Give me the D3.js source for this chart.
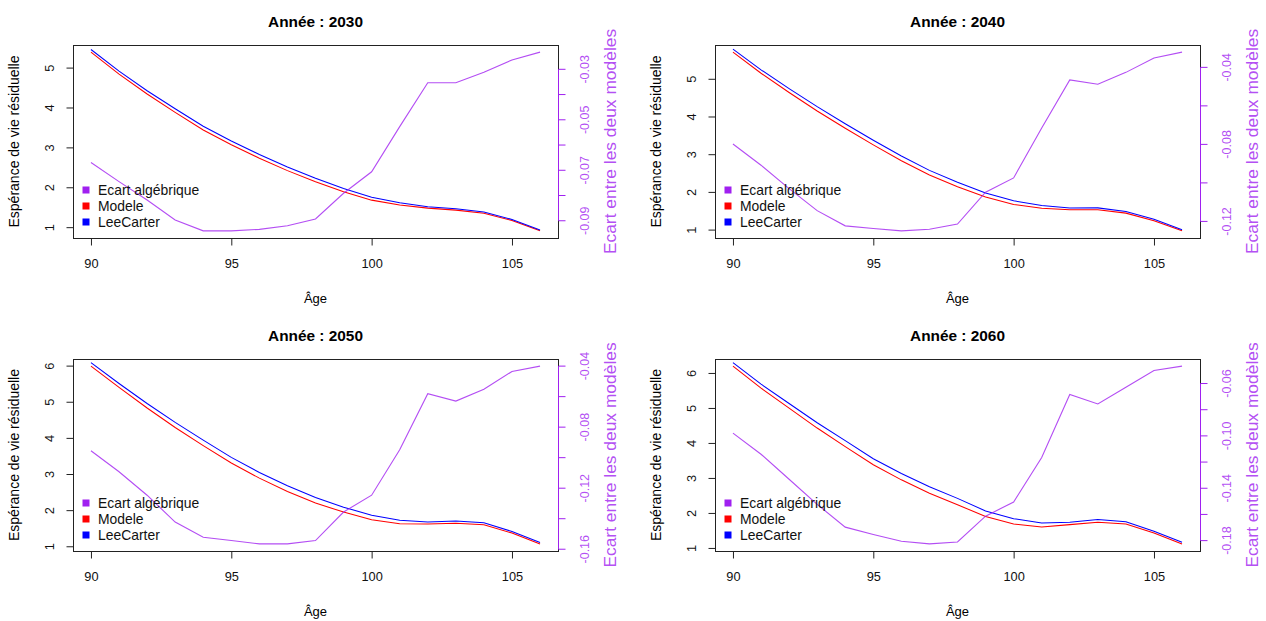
<!DOCTYPE html>
<html>
<head>
<meta charset="utf-8">
<script src="https://cdn.jsdelivr.net/npm/d3@7"></script>
<style>
  html, body { margin: 0; padding: 0; background: #fff; }
  svg { display: block; font-family: "Liberation Sans", Arial, sans-serif; }
</style>
</head>
<body>
<svg id="chart" width="1266" height="621"></svg>
<script>
// Ages (x axis)
const ages = [90, 91, 92, 93, 94, 95, 96, 97, 98, 99, 100, 101, 102, 103, 104, 105, 106];
const ageTicks = [90, 95, 100, 105];

// Projection years, one panel each
const years = [2030, 2040, 2050, 2060];

// Residual life expectancy, "Modele"
const modele2030 = [5.40, 4.85, 4.35, 3.89, 3.45, 3.08, 2.74, 2.43, 2.15, 1.90, 1.69, 1.57, 1.49, 1.44, 1.36, 1.18, 0.92];
const modele2040 = [5.72, 5.16, 4.65, 4.16, 3.70, 3.26, 2.84, 2.46, 2.15, 1.88, 1.68, 1.58, 1.54, 1.54, 1.45, 1.25, 0.98];
const modele2050 = [6.00, 5.41, 4.84, 4.30, 3.80, 3.32, 2.90, 2.53, 2.21, 1.96, 1.75, 1.64, 1.63, 1.65, 1.61, 1.38, 1.08];
const modele2060 = [6.21, 5.58, 5.01, 4.44, 3.91, 3.39, 2.96, 2.58, 2.25, 1.91, 1.70, 1.61, 1.68, 1.75, 1.70, 1.44, 1.13];

// Residual life expectancy, Lee-Carter
const leeCarter2030 = [5.467, 4.925, 4.432, 3.980, 3.544, 3.174, 2.833, 2.522, 2.239, 1.979, 1.761, 1.623, 1.525, 1.475, 1.391, 1.206, 0.943];
const leeCarter2040 = [5.800, 5.251, 4.753, 4.274, 3.822, 3.384, 2.965, 2.584, 2.271, 1.985, 1.777, 1.652, 1.587, 1.589, 1.493, 1.285, 1.012];
const leeCarter2050 = [6.096, 5.519, 4.965, 4.442, 3.952, 3.474, 3.057, 2.687, 2.364, 2.096, 1.875, 1.735, 1.688, 1.713, 1.665, 1.424, 1.120];
const leeCarter2060 = [6.308, 5.694, 5.143, 4.592, 4.080, 3.565, 3.141, 2.763, 2.431, 2.071, 1.851, 1.727, 1.748, 1.826, 1.763, 1.490, 1.177];

// Algebraic gap between the two models (Modele - LeeCarter)
const ecart2030 = [-0.0669, -0.0745, -0.0818, -0.0897, -0.0940, -0.0940, -0.0934, -0.0920, -0.0893, -0.0791, -0.0706, -0.0527, -0.0353, -0.0353, -0.0312, -0.0263, -0.0232];
const ecart2040 = [-0.0798, -0.0908, -0.1030, -0.1144, -0.1223, -0.1237, -0.1249, -0.1241, -0.1214, -0.1048, -0.0974, -0.0715, -0.0465, -0.0488, -0.0426, -0.0351, -0.0321];
const ecart2050 = [-0.0955, -0.1092, -0.1246, -0.1422, -0.1521, -0.1543, -0.1565, -0.1565, -0.1543, -0.1356, -0.1246, -0.0948, -0.0581, -0.0629, -0.0552, -0.0435, -0.0400];
const ecart2060 = [-0.0979, -0.1140, -0.1331, -0.1523, -0.1697, -0.1753, -0.1805, -0.1825, -0.1810, -0.1613, -0.1505, -0.1165, -0.0684, -0.0756, -0.0628, -0.0500, -0.0467];

// Right-axis ticks and the subset that carries a label
const ecartTicks2030 = [-0.09, -0.08, -0.07, -0.06, -0.05, -0.04, -0.03];
const ecartTicks2040 = [-0.12, -0.10, -0.08, -0.06, -0.04];
const ecartTicks2050 = [-0.16, -0.14, -0.12, -0.10, -0.08, -0.06, -0.04];
const ecartTicks2060 = [-0.18, -0.16, -0.14, -0.12, -0.10, -0.08, -0.06];
const ecartLabels2030 = [-0.09, -0.07, -0.05, -0.03];
const ecartLabels2040 = [-0.12, -0.08, -0.04];
const ecartLabels2050 = [-0.16, -0.12, -0.08, -0.04];
const ecartLabels2060 = [-0.18, -0.14, -0.10, -0.06];

const legendLabels = ["Ecart algébrique", "Modele", "LeeCarter"];
const seriesColors = ["#A020F0", "#FF0000", "#0000FF"];

const panels = [
  { year: years[0], modele: modele2030, lee: leeCarter2030, ecart: ecart2030, ticks: ecartTicks2030, labels: ecartLabels2030 },
  { year: years[1], modele: modele2040, lee: leeCarter2040, ecart: ecart2040, ticks: ecartTicks2040, labels: ecartLabels2040 },
  { year: years[2], modele: modele2050, lee: leeCarter2050, ecart: ecart2050, ticks: ecartTicks2050, labels: ecartLabels2050 },
  { year: years[3], modele: modele2060, lee: leeCarter2060, ecart: ecart2060, ticks: ecartTicks2060, labels: ecartLabels2060 }
];

// Layout of the 2x2 grid of plot boxes
const boxLeft = [73, 715];
const boxTop = [45, 359];
const boxW = 485;
const boxH = [193, 192];
const purple = seriesColors[0];
const tickLen = 7;
const fmt = v => v.toFixed(2);

// R-style axis limits: data range widened by 4% on each side
function padded(values) {
  const [lo, hi] = d3.extent(values);
  const p = (hi - lo) * 0.04;
  return [lo - p, hi + p];
}

const svg = d3.select("#chart");

panels.forEach((d, i) => {
  const col = i % 2, row = Math.floor(i / 2);
  const W = boxW, H = boxH[row];
  const g = svg.append("g").attr("transform", `translate(${boxLeft[col]},${boxTop[row]})`);

  const x = d3.scaleLinear().domain(padded(ages)).range([0, W]);
  const y = d3.scaleLinear().domain(padded(d.modele)).range([H, 0]);
  const y2 = d3.scaleLinear().domain(padded(d.ecart)).range([H, 0]);

  const line = vals => d3.line().x((_, k) => x(ages[k])).y(v => y(v))(vals);
  const line2 = d3.line().x((_, k) => x(ages[k])).y(v => y2(v));

  // Curves
  g.append("path").attr("d", line(d.modele)).attr("fill", "none")
    .attr("stroke", seriesColors[1]).attr("stroke-width", 1.05);
  g.append("path").attr("d", line(d.lee)).attr("fill", "none")
    .attr("stroke", seriesColors[2]).attr("stroke-width", 1.05);
  g.append("path").attr("d", line2(d.ecart)).attr("fill", "none")
    .attr("stroke", purple).attr("stroke-width", 1.1).attr("stroke-opacity", 0.8);

  // Frame
  g.append("rect").attr("x", 0.5).attr("y", 0.5).attr("width", W).attr("height", H)
    .attr("fill", "none").attr("stroke", "#222").attr("stroke-width", 1);

  // Bottom axis
  const xAxis = d3.axisBottom(x).tickValues(ageTicks).tickSize(tickLen).tickPadding(13)
    .tickFormat(d3.format("d"));
  const gx = g.append("g").attr("transform", `translate(0,${H + 0.5})`).call(xAxis);
  gx.select(".domain").attr("d", `M${x(ageTicks[0])},0H${x(ageTicks[ageTicks.length - 1])}`).attr("stroke", "#222");
  gx.selectAll(".tick line").attr("stroke", "#222");
  gx.selectAll(".tick text").attr("font-size", 12.8).attr("fill", "#111")
    .attr("font-family", "Liberation Sans, Arial, sans-serif");

  // Left axis, labels parallel to the axis
  const yTicks = y.ticks(5);
  const gy = g.append("g").attr("transform", "translate(0.5,0)");
  gy.append("path").attr("d", `M0,${y(yTicks[0])}V${y(yTicks[yTicks.length - 1])}`).attr("stroke", "#222");
  yTicks.forEach(t => {
    gy.append("line").attr("x1", 0).attr("x2", -tickLen).attr("y1", y(t)).attr("y2", y(t)).attr("stroke", "#222");
    gy.append("text").attr("transform", `translate(-24,${y(t)}) rotate(-90)`)
      .attr("text-anchor", "middle").attr("dy", "0.35em")
      .attr("font-size", 12.8).attr("fill", "#111").text(d3.format("d")(t));
  });

  // Right axis (gap scale), purple
  const gr = g.append("g").attr("transform", `translate(${W + 0.5},0)`);
  gr.append("path").attr("d", `M0,${y2(d.ticks[0])}V${y2(d.ticks[d.ticks.length - 1])}`)
    .attr("stroke", purple).attr("stroke-width", 1);
  d.ticks.forEach(t => {
    gr.append("line").attr("x1", 0).attr("x2", tickLen).attr("y1", y2(t)).attr("y2", y2(t))
      .attr("stroke", purple);
  });
  d.labels.forEach(t => {
    gr.append("text").attr("transform", `translate(26,${y2(t)}) rotate(-90)`)
      .attr("text-anchor", "middle").attr("dy", "0.35em")
      .attr("font-size", 12.5).attr("fill", purple).attr("fill-opacity", 0.8).text(fmt(t));
  });

  // Titles and axis names
  g.append("text").attr("x", W / 2).attr("y", -18).attr("text-anchor", "middle")
    .attr("font-size", 15.4).attr("font-weight", "bold").attr("fill", "#000")
    .text(`Année : ${d.year}`);
  g.append("text").attr("x", W / 2).attr("y", H + 65).attr("text-anchor", "middle")
    .attr("font-size", 13).attr("fill", "#000").text("Âge");
  g.append("text").attr("transform", `translate(-59,${H / 2}) rotate(-90)`)
    .attr("text-anchor", "middle").attr("dy", "0.35em")
    .attr("font-size", 14).attr("fill", "#000").text("Espérance de vie résiduelle");
  g.append("text").attr("transform", `translate(${W + 52},${H / 2}) rotate(-90)`)
    .attr("text-anchor", "middle").attr("dy", "0.35em")
    .attr("font-size", 17.4).attr("fill", purple).attr("fill-opacity", 0.8)
    .text("Ecart entre les deux modèles");

  // Legend, bottom-left without frame
  const lg = g.append("g").attr("transform", `translate(0,${H})`);
  legendLabels.forEach((lab, k) => {
    const cy = -48 + 16 * k;
    lg.append("rect").attr("x", 9.5).attr("y", cy - 3.5).attr("width", 7).attr("height", 7)
      .attr("fill", seriesColors[k]);
    lg.append("text").attr("x", 25).attr("y", cy).attr("dy", "0.35em")
      .attr("font-size", 13.9).attr("fill", "#111").text(lab);
  });
});
</script>
</body>
</html>
